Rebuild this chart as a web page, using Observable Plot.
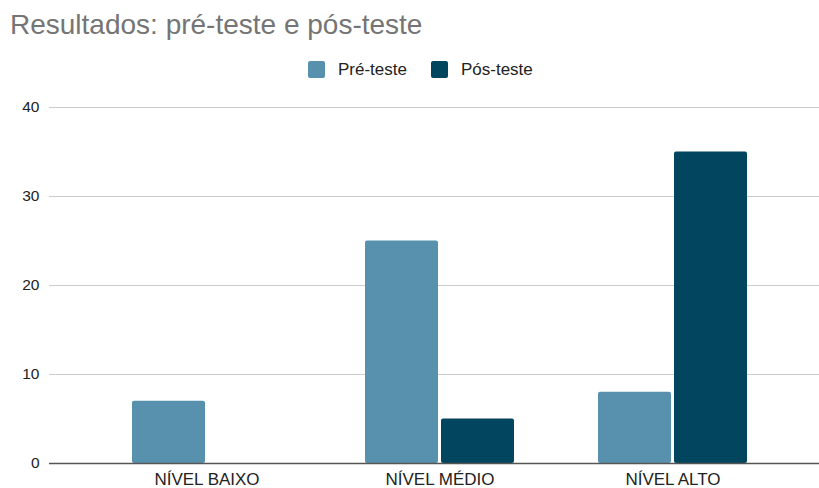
<!DOCTYPE html>
<html>
<head>
<meta charset="utf-8">
<script src="https://cdn.jsdelivr.net/npm/d3@7"></script>
<script src="https://cdn.jsdelivr.net/npm/@observablehq/plot@0.6"></script>
<style>
  body { margin: 0; background: #fff; font-family: "Liberation Sans", Arial, sans-serif; }
  #wrap { width: 819px; height: 488px; position: relative; overflow: hidden; }
  #header { position: relative; width: 819px; height: 90px; }
  #title { position: absolute; left: 10px; top: 11px; font-size: 28px; line-height: 28px; color: #757575; white-space: nowrap; }
  #legend { position: absolute; left: 308px; top: 61px; display: flex; align-items: center; font-size: 17px; color: #222; height: 17px; }
  .item { display: flex; align-items: center; }
  .sw { width: 17px; height: 17px; border-radius: 2px; margin-right: 13px; }
  #chart { position: relative; width: 819px; height: 398px; }
  #chart svg { position: absolute; left: 0; top: 0; display: block; }
</style>
</head>
<body>
<div id="wrap">
  <div id="header">
    <div id="title">Resultados: pré-teste e pós-teste</div>
    <div id="legend"></div>
  </div>
  <div id="chart"></div>
</div>
<script>
const categories = ["NÍVEL BAIXO", "NÍVEL MÉDIO", "NÍVEL ALTO"];
const series = ["Pré-teste", "Pós-teste"];
const preValues = [7, 25, 8];
const postValues = [0, 5, 35];
const yTicks = [0, 10, 20, 30, 40];
const colors = ["#5891ad", "#01455f"];

const data = categories.flatMap((c, i) => [
  {category: c, series: series[0], value: preValues[i]},
  {category: c, series: series[1], value: postValues[i]}
]);

// legend
const legend = document.getElementById("legend");
series.forEach((s, i) => {
  const it = document.createElement("div");
  it.className = "item";
  if (i > 0) it.style.marginLeft = "24px";
  const sw = document.createElement("div");
  sw.className = "sw";
  sw.style.background = colors[i];
  const t = document.createElement("span");
  t.textContent = s;
  it.appendChild(sw);
  it.appendChild(t);
  legend.appendChild(it);
});

const common = {
  width: 819,
  height: 398,
  marginTop: 17,
  marginBottom: 25,
  marginLeft: 49,
  marginRight: 0,
  style: {fontFamily: "'Liberation Sans', Arial, sans-serif", background: "transparent", overflow: "visible"},
  y: {domain: [0, 40], axis: null}
};

// layer 1: gridlines and y tick labels
const gridLayer = Plot.plot({
  ...common,
  marks: [
    Plot.ruleY(yTicks.slice(1), {stroke: "#cccccc", strokeWidth: 1}),
    Plot.text(yTicks, {y: d => d, text: d => String(d), frameAnchor: "left", textAnchor: "end", dx: -10, fontSize: 15.5, fill: "#222"})
  ]
});

// layer 2: grouped bars and category labels
const barLayer = Plot.plot({
  ...common,
  fx: {domain: categories, range: [55, 825], paddingInner: 0.36, paddingOuter: 0.33, label: null, axis: null},
  x: {domain: series, paddingInner: 0.04, paddingOuter: 0, axis: null},
  color: {domain: series, range: colors},
  marks: [
    Plot.barY(data, {fx: "category", x: "series", y: "value", fill: "series", rx: 2}),
    Plot.axisFx({anchor: "bottom", tickSize: 0, tickPadding: 9, fontSize: 17, fill: "#222", label: null})
  ]
});

// layer 3: zero baseline on top
const baseLayer = Plot.plot({
  ...common,
  marks: [
    Plot.ruleY([0], {stroke: "#555", strokeWidth: 1.5})
  ]
});

const chart = document.getElementById("chart");
chart.appendChild(gridLayer);
chart.appendChild(barLayer);
chart.appendChild(baseLayer);
</script>
</body>
</html>
